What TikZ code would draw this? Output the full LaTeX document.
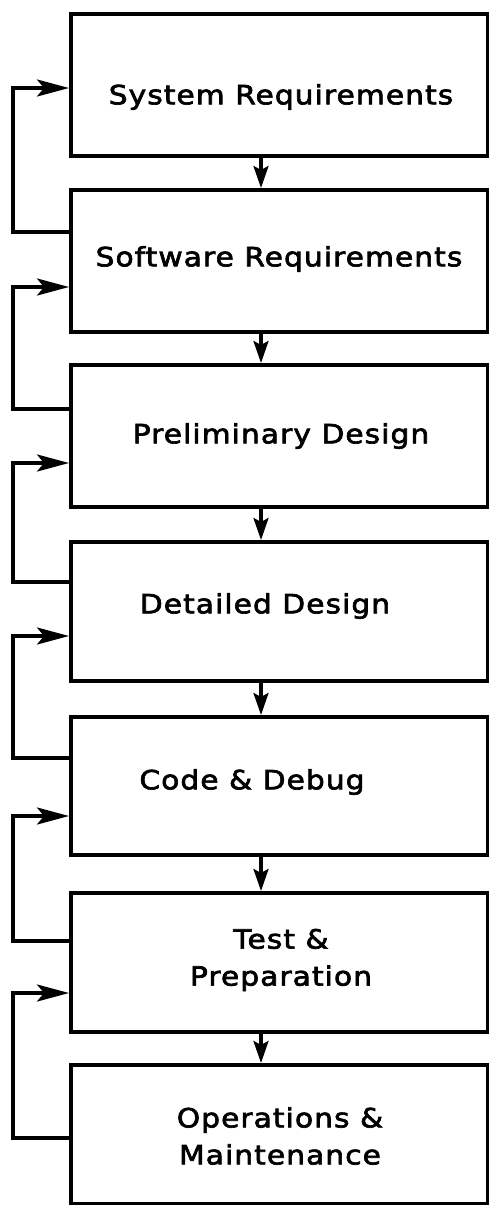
\documentclass[tikz,border=0pt]{standalone}
\usepackage{fontspec}
\setmainfont{DejaVu Sans}[FakeStretch=1.12,LetterSpace=4,FakeBold=2.5]
\usetikzlibrary{arrows.meta}
\begin{document}
\begin{tikzpicture}[x=1pt,y=-1pt,
  box/.style={draw,line width=3.5pt,minimum width=417pt,inner sep=0pt,anchor=north west},
  lbl/.style={font=\fontsize{26.5}{37}\selectfont,align=center,inner sep=0pt},
  darr/.style={line width=3.2pt,-{Stealth[length=22pt,width=15pt,inset=4pt]}},
  larr/.style={line width=3.2pt,-{Stealth[length=32pt,width=17pt,inset=7pt]}}]
\useasboundingbox (0,0) rectangle (488,1205);
\node[box,minimum height=142pt] (b1) at (69,12) {};
\node[box,minimum height=142pt] (b2) at (69,188) {};
\node[box,minimum height=142pt] (b3) at (69,363) {};
\node[box,minimum height=139pt] (b4) at (69,540) {};
\node[box,minimum height=138pt] (b5) at (69,715) {};
\node[box,minimum height=139pt] (b6) at (69,891) {};
\node[box,minimum height=139pt] (b7) at (69,1063) {};
\node[lbl] (t1) at (281,97) {System Requirements};
\node[lbl] (t2) at (279,259) {Software Requirements};
\node[lbl] (t3) at (281,436) {Preliminary Design};
\node[lbl] (t4) at (265,606) {Detailed Design};
\node[lbl] (t5) at (252,782) {Code \& Debug};
\node[lbl] (t6) at (281,960) {Test \&\\Preparation};
\node[lbl] (t7) at (280,1136) {Operations \&\\Maintenance};
\coordinate (ax) at (261,0);
\coordinate (lx) at (13,0);
\foreach \a/\b in {b1/b2,b2/b3,b3/b4,b4/b5,b5/b6,b6/b7}
  \draw[darr] (\a.south -| ax) -- (\b.north -| ax);
\foreach \a/\b/\yo/\yi in {b2/b1/232/88,b3/b2/409/287,b4/b3/582/463,b5/b4/758/636,b6/b5/941/816,b7/b6/1138/993}
  \draw[larr] (\a.west |- 0,\yo) -- (lx |- 0,\yo) -- (lx |- 0,\yi) -- (\b.west |- 0,\yi);
\end{tikzpicture}
\end{document}
